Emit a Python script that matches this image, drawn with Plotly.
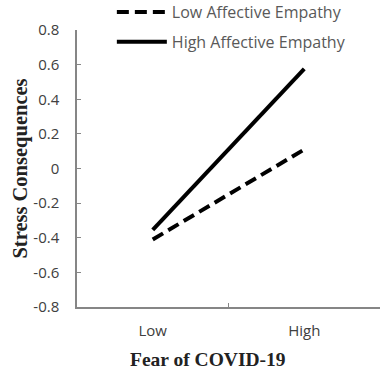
import plotly.graph_objects as go

categories = ["Low", "High"]
low_empathy = [-0.41, 0.11]
high_empathy = [-0.355, 0.575]
series_names = ["Low Affective Empathy", "High Affective Empathy"]
y_tickvals = [0.8, 0.6, 0.4, 0.2, 0, -0.2, -0.4, -0.6, -0.8]
y_ticktext = ["0.8", "0.6", "0.4", "0.2", "0", "-0.2", "-0.4", "-0.6", "-0.8"]
x_title = "<b>Fear of COVID-19</b>"
y_title = "<b>Stress Consequences</b>"

fig = go.Figure()
fig.add_trace(go.Scatter(x=categories, y=low_empathy, mode="lines", name=series_names[0],
                         legendgroup="a",
                         line=dict(color="black", width=4, dash="12px,6px")))
fig.add_trace(go.Scatter(x=categories, y=high_empathy, mode="lines", name=series_names[1],
                         legendgroup="b",
                         line=dict(color="black", width=4)))

fig.update_layout(
    width=383, height=369,
    margin=dict(l=77, r=3, t=30, b=62, autoexpand=False),
    plot_bgcolor="white", paper_bgcolor="white",
    font=dict(family="Open Sans", size=15, color="#404040"),
    legend=dict(x=0.115, y=1.126, xanchor="left", yanchor="top",
                font=dict(size=16, color="#595959"), tracegroupgap=6,
                bgcolor="rgba(0,0,0,0)", itemwidth=50),
    xaxis=dict(type="category", range=[-0.5, 1.5], tickson="boundaries",
               ticks="inside", ticklen=4, tickcolor="#868686",
               showline=True, linecolor="#868686", linewidth=1.5,
               showgrid=False, zeroline=False, automargin=False,
               ticklabelstandoff=9),
    yaxis=dict(range=[-0.8, 0.8], tickvals=y_tickvals, ticktext=y_ticktext,
               ticks="inside", ticklen=4, tickcolor="#868686",
               showline=True, linecolor="#868686", linewidth=1.5,
               showgrid=False, zeroline=False, automargin=False,
               ticklabelstandoff=13,
               title=dict(text=y_title, standoff=0,
                          font=dict(family="Liberation Serif", size=20.5, color="#222"))),
    annotations=[dict(text=x_title, xref="paper", yref="paper", x=0.432, y=-0.188,
                      xanchor="center", yanchor="middle", showarrow=False,
                      font=dict(family="Liberation Serif", size=19.5, color="#222"))],
)

fig.write_html("out.html", config={"displayModeBar": False},
               post_script="document.body.style.margin='0';")
